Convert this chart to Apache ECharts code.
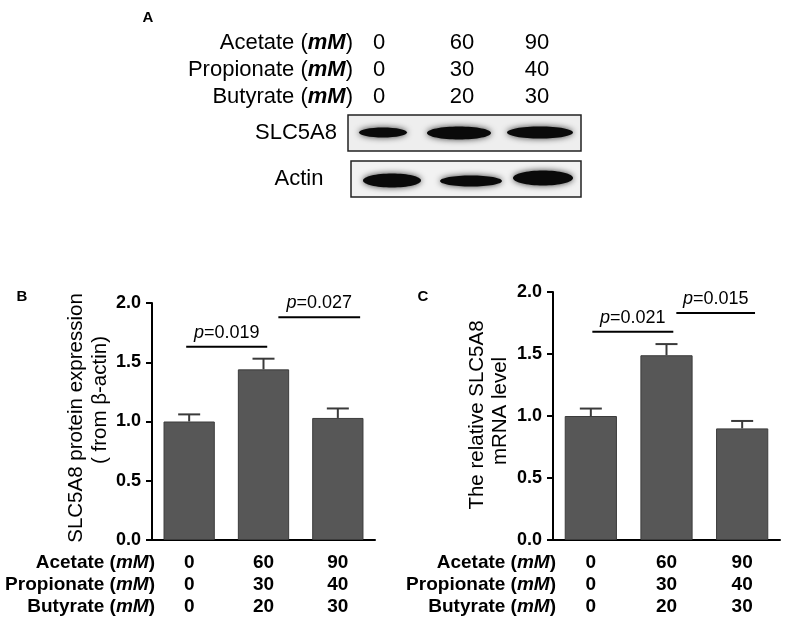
<!DOCTYPE html>
<html>
<head>
<meta charset="utf-8">
<script src="https://cdn.jsdelivr.net/npm/echarts@6/dist/echarts.min.js"></script>
<style>
  html, body { margin: 0; padding: 0; background: #fff; }
  #chart { width: 785px; height: 624px; }
</style>
</head>
<body>
<div id="chart"></div>
<script>
// concentrations for each group (mM)
var acetate = [0, 60, 90];
var propionate = [0, 30, 40];
var butyrate = [0, 20, 30];
var groups = ['g1', 'g2', 'g3'];

// panel B: protein (from beta-actin)
var proteinMean = [1.00, 1.44, 1.03];
var proteinErr = [0.06, 0.09, 0.08];
var proteinP = [[-0.04, 1.05, 1.63, '0.019'], [1.2, 2.3, 1.88, '0.027']];

// panel C: mRNA level
var mrnaMean = [1.00, 1.49, 0.90];
var mrnaErr = [0.06, 0.09, 0.06];
var mrnaP = [[0.02, 1.09, 1.68, '0.021'], [1.13, 2.17, 1.83, '0.015']];

var yTicks = [0, 0.5, 1.0, 1.5, 2.0];

var FONT = '"Liberation Sans", Arial, sans-serif';
var BAR = '#575757';

function xAxisOf(idx) {
    return {
        type: 'category',
        gridIndex: idx,
        data: groups,
        axisLine: { lineStyle: { color: '#000', width: 2 } },
        axisTick: { alignWithLabel: true, length: 6, lineStyle: { color: '#000', width: 2 } },
        axisLabel: {
            margin: 12,
            fontFamily: FONT, fontSize: 19, fontWeight: 'bold', color: '#000', lineHeight: 22,
            formatter: function (v, i) {
                return acetate[i] + '\n' + propionate[i] + '\n' + butyrate[i];
            }
        }
    };
}

function yAxisOf(idx) {
    return {
        type: 'value',
        gridIndex: idx,
        min: yTicks[0], max: yTicks[yTicks.length - 1], interval: 0.5,
        splitLine: { show: false },
        axisLine: { show: true, lineStyle: { color: '#000', width: 2 } },
        axisTick: { show: true, length: 6, lineStyle: { color: '#000', width: 2 } },
        axisLabel: {
            margin: 11,
            fontFamily: FONT, fontSize: 18, fontWeight: 'bold', color: '#000',
            formatter: function (v) { return v.toFixed(1); }
        }
    };
}

function barSeries(idx, data) {
    return {
        type: 'bar', xAxisIndex: idx, yAxisIndex: idx,
        data: data, barWidth: '69%',
        itemStyle: { color: BAR, borderColor: '#3c3c3c', borderWidth: 1 },
        silent: true
    };
}

function errorSeries(idx, mean, err) {
    var d = mean.map(function (m, i) { return [i, m, err[i]]; });
    return {
        type: 'custom', xAxisIndex: idx, yAxisIndex: idx, data: d, z: 1, silent: true,
        renderItem: function (params, api) {
            var i = api.value(0), m = api.value(1), e = api.value(2);
            var p0 = api.coord([i, m]);
            var p1 = api.coord([i, m + e]);
            var st = { stroke: '#3a3a3a', lineWidth: 2 };
            return {
                type: 'group',
                children: [
                    { type: 'line', shape: { x1: p0[0], y1: p0[1], x2: p1[0], y2: p1[1] }, style: st },
                    { type: 'line', shape: { x1: p1[0] - 11, y1: p1[1], x2: p1[0] + 11, y2: p1[1] }, style: st }
                ]
            };
        }
    };
}

function pSeries(idx, list) {
    return {
        type: 'custom', xAxisIndex: idx, yAxisIndex: idx, data: list, silent: true, clip: false,
        renderItem: function (params, api) {
            var item = list[params.dataIndex];
            var base = api.coord([0, item[2]]);
            var band = api.size([1, 0])[0];
            var xa = base[0] + item[0] * band;
            var xb = base[0] + item[1] * band;
            return {
                type: 'group',
                children: [
                    { type: 'line', shape: { x1: xa, y1: base[1], x2: xb, y2: base[1] },
                      style: { stroke: '#000', lineWidth: 2 } },
                    { type: 'text', x: (xa + xb) / 2, y: base[1] - 5,
                      style: {
                          text: '{i|p}{n|=' + item[3] + '}',
                          textAlign: 'center', textVerticalAlign: 'bottom',
                          rich: {
                              i: { fontFamily: FONT, fontSize: 18, fontStyle: 'italic', fill: '#000' },
                              n: { fontFamily: FONT, fontSize: 18, fill: '#000' }
                          }
                      } }
                ]
            };
        }
    };
}

function rowTitle(name, x, y) {
    return {
        type: 'text', x: x, y: y,
        style: {
            text: '{n|' + name + ' (}{i|mM}{n|)}',
            textAlign: 'right', textVerticalAlign: 'middle',
            rich: {
                n: { fontFamily: FONT, fontSize: 19, fontWeight: 'bold', fill: '#000' },
                i: { fontFamily: FONT, fontSize: 19, fontWeight: 'bold', fontStyle: 'italic', fill: '#000' }
            }
        }
    };
}

function vText(text, x, y) {
    return {
        type: 'text', x: x, y: y, rotation: Math.PI / 2,
        style: { text: text, fontFamily: FONT, fontSize: 20.5, fill: '#000',
                 textAlign: 'center', textVerticalAlign: 'middle' }
    };
}

function label(text, x, y, size) {
    return {
        type: 'text', x: x, y: y,
        style: { text: text, fontFamily: FONT, fontSize: size, fontWeight: 'bold', fill: '#000',
                 textAlign: 'center', textVerticalAlign: 'middle' }
    };
}

// panel A: blot header and bands
var rowNames = ['Acetate', 'Propionate', 'Butyrate'];
var rowVals = [acetate, propionate, butyrate];
var laneX = [379, 462, 537];
var graphics = [label('A', 148, 18, 15), label('B', 22, 297, 15), label('C', 423, 297, 15)];

rowNames.forEach(function (n, r) {
    var y = 43 + r * 27;
    graphics.push({
        type: 'text', x: 353, y: y,
        style: {
            text: '{n|' + n + ' (}{i|mM}{n|)}',
            textAlign: 'right', textVerticalAlign: 'middle',
            rich: {
                n: { fontFamily: FONT, fontSize: 22, fill: '#000' },
                i: { fontFamily: FONT, fontSize: 22, fontWeight: 'bold', fontStyle: 'italic', fill: '#000' }
            }
        }
    });
    rowVals[r].forEach(function (v, i) {
        graphics.push({
            type: 'text', x: laneX[i], y: y,
            style: { text: String(v), fontFamily: FONT, fontSize: 22, fill: '#000',
                     textAlign: 'center', textVerticalAlign: 'middle' }
        });
    });
});

graphics.push({ type: 'rect', shape: { x: 348, y: 115, width: 233, height: 36 },
                style: { fill: '#eeeeee', stroke: '#222', lineWidth: 1.5 } });
graphics.push({ type: 'rect', shape: { x: 351, y: 161, width: 230, height: 36 },
                style: { fill: '#f2f2f2', stroke: '#222', lineWidth: 1.5 } });
graphics.push({ type: 'text', x: 337, y: 133,
                style: { text: 'SLC5A8', fontFamily: FONT, fontSize: 22, fill: '#000',
                         textAlign: 'right', textVerticalAlign: 'middle' } });
graphics.push({ type: 'text', x: 299, y: 179,
                style: { text: 'Actin', fontFamily: FONT, fontSize: 22, fill: '#000',
                         textAlign: 'center', textVerticalAlign: 'middle' } });

var bands = [
    [383, 132.5, 24, 5], [459, 133, 32, 6.5], [540, 132.5, 33, 6],
    [392, 180.5, 29, 7], [471, 181, 31, 5.5], [543, 178, 30, 7.5]
];
bands.forEach(function (b) {
    graphics.push({
        type: 'ellipse', shape: { cx: b[0], cy: b[1], rx: b[2], ry: b[3] },
        style: { fill: '#0a0a0a', shadowBlur: 6, shadowColor: 'rgba(0,0,0,0.75)' }
    });
});

rowNames.forEach(function (n, r) {
    graphics.push(rowTitle(n, 155, 563 + r * 22));
    graphics.push(rowTitle(n, 556, 563 + r * 22));
});

graphics.push(vText('SLC5A8 protein expression', 76, 418));
graphics.push(vText('( from \u03b2-actin)', 100, 400));
graphics.push(vText('The relative SLC5A8', 477, 415));
graphics.push(vText('mRNA level', 500, 411));

var chart = echarts.init(document.getElementById('chart'), null, { renderer: 'canvas' });
chart.setOption({
    animation: false,
    backgroundColor: '#fff',
    grid: [
        { left: 152, top: 303, width: 223, height: 237 },
        { left: 553, top: 292, width: 227, height: 248 }
    ],
    xAxis: [xAxisOf(0), xAxisOf(1)],
    yAxis: [yAxisOf(0), yAxisOf(1)],
    series: [
        barSeries(0, proteinMean), errorSeries(0, proteinMean, proteinErr), pSeries(0, proteinP),
        barSeries(1, mrnaMean), errorSeries(1, mrnaMean, mrnaErr), pSeries(1, mrnaP)
    ],
    graphic: graphics
});
</script>
</body>
</html>
